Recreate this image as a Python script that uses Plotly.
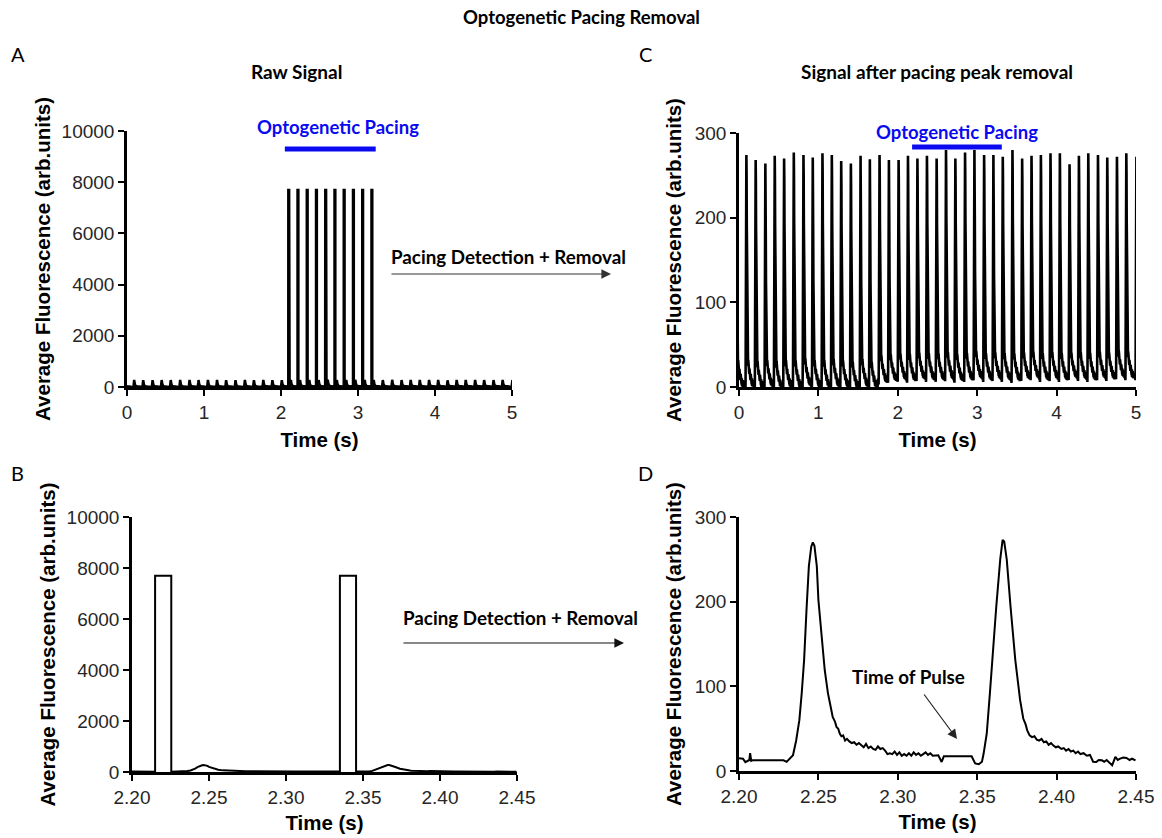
import plotly.graph_objects as go

W, H = 1162, 838

# ---------------- data ----------------
# Panel C: peak times (s) and peak heights (arb.units) of every beat
c_peak_times = [-0.034, 0.093, 0.210, 0.332, 0.450, 0.568, 0.690, 0.812, 0.929, 1.051,
                1.169, 1.287, 1.409, 1.531, 1.648, 1.770, 1.888, 2.010, 2.128, 2.247,
                2.367, 2.489, 2.607, 2.725, 2.847, 2.965, 3.087, 3.204, 3.322, 3.444,
                3.566, 3.684, 3.802, 3.923, 4.041, 4.163, 4.281, 4.399, 4.521, 4.638,
                4.760, 4.878, 5.005]
c_peak_heights = [272, 274, 268, 264, 273, 270, 277, 274, 271, 276,
                  274, 267, 264, 273, 269, 274, 268, 268, 273, 270,
                  273, 270, 280, 270, 277, 280, 274, 274, 272, 280,
                  270, 273, 274, 276, 276, 263, 273, 276, 274, 271,
                  272, 276, 272]
c_trough_levels = [3, 3, 2, 4, 1, 3, 2, 5, 3, 2,
                   4, 3, 2, 4, 1, 9, 11, 12, 11, 13,
                   12, 12, 13, 11, 12, 14, 12, 13, 12, 11,
                   13, 14, 12, 13, 12, 14, 13, 12, 14, 13,
                   15, 14, 14]

# single-beat waveform (time from peak, value)
beat_dt = [-0.020, -0.016, -0.0135, -0.0115, -0.010, -0.0085, -0.0065, -0.0045, -0.0025, -0.001,
           0.0, 0.001, 0.0025, 0.005, 0.008, 0.0105, 0.0125, 0.0145, 0.0165, 0.0185,
           0.021, 0.0235, 0.026, 0.0285, 0.031, 0.034, 0.0365, 0.039, 0.0415, 0.044,
           0.0465, 0.049, 0.0515, 0.0545, 0.057, 0.0595, 0.062, 0.0645, 0.067, 0.0695,
           0.072, 0.0745, 0.077, 0.0795, 0.082, 0.0845, 0.087, 0.0895, 0.092, 0.0945,
           0.097, 0.0995]
beat_val = [13, 8, 10, 6, 20, 44, 92, 147, 194, 250,
            273, 271, 250, 194, 131, 84, 62, 48, 36, 44,
            33, 40, 30, 36, 26, 33, 24, 30, 21, 27,
            20, 26, 17, 24, 15, 22, 14, 20, 12, 19,
            10, 18, 11, 17, 9, 16, 10, 15, 8, 14,
            10, 12]

# Optogenetic pulses (start times, s), pulse width and saturated height
pulse_starts = [2.095, 2.215, 2.335, 2.455, 2.575, 2.695, 2.815, 2.935, 3.055, 3.175]
pulse_width = 0.0105
pulse_height = 7700

# Panel D: zoomed trace after pacing peak removal
d_t = [2.2000, 2.2025, 2.2040, 2.2057, 2.2065, 2.2070, 2.2077, 2.2085, 2.2280, 2.2300,
       2.2320, 2.2340, 2.2360, 2.2380, 2.2395, 2.2410, 2.2425, 2.2440, 2.2455, 2.2465,
       2.2475, 2.2490, 2.2500, 2.2520, 2.2540, 2.2560, 2.2590, 2.2605, 2.2614, 2.2625,
       2.2635, 2.2645, 2.2656, 2.2668, 2.2680, 2.2695, 2.2710, 2.2725, 2.2740, 2.2755,
       2.2770, 2.2785, 2.2800, 2.2815, 2.2830, 2.2845, 2.2860, 2.2875, 2.2890, 2.2905,
       2.2920, 2.2935, 2.2950, 2.2965, 2.2980, 2.2995, 2.3010, 2.3025, 2.3040, 2.3055,
       2.3070, 2.3085, 2.3100, 2.3115, 2.3130, 2.3145, 2.3160, 2.3175, 2.3190, 2.3205,
       2.3220, 2.3240, 2.3255, 2.3276, 2.3290, 2.3465, 2.3487, 2.3510, 2.3530, 2.3540,
       2.3560, 2.3580, 2.3600, 2.3620, 2.3645, 2.3660, 2.3670, 2.3686, 2.3710, 2.3740,
       2.3770, 2.3790, 2.3805, 2.3815, 2.3830, 2.3845, 2.3860, 2.3875, 2.3890, 2.3905,
       2.3920, 2.3935, 2.3950, 2.3965, 2.3980, 2.3995, 2.4010, 2.4030, 2.4045, 2.4060,
       2.4075, 2.4090, 2.4105, 2.4120, 2.4135, 2.4150, 2.4170, 2.4190, 2.4210, 2.4230,
       2.4250, 2.4265, 2.4285, 2.4300, 2.4315, 2.4330, 2.4350, 2.4370, 2.4385, 2.4400,
       2.4420, 2.4440, 2.4460, 2.4475, 2.4497]
d_v = [15, 14.5, 10.5, 12.5, 13, 21, 12, 12.6, 12.6, 10.8,
       15.4, 18.6, 36, 60, 92, 131, 190, 242, 265, 270,
       266, 242, 202, 159, 119, 92, 64, 58, 52, 50,
       44, 41, 42, 36, 38, 35, 33, 34, 31, 33,
       31, 28, 32, 27, 29, 26, 25, 29, 26, 27,
       24, 20, 21, 20, 23, 19, 22, 18, 20, 18,
       21, 18, 22, 19, 21, 18, 20, 22, 19, 21,
       18, 18, 18.6, 10.7, 17.4, 17.4, 9, 8, 11, 20,
       44, 92, 147, 194, 250, 273, 271, 250, 194, 131,
       84, 62, 55, 48, 42, 40, 41, 37, 36, 38,
       34, 35, 31, 33, 30, 28, 29, 26, 27, 24,
       26, 23, 24, 21, 23, 20, 21, 18, 19, 11,
       10.7, 13, 12.6, 11, 13, 10.7, 6.7, 16.6, 13, 14.6,
       16, 15.4, 13, 14.5, 12.6]

x_ticks_long = [0, 1, 2, 3, 4, 5]
x_ticks_zoom = [2.20, 2.25, 2.30, 2.35, 2.40, 2.45]
y_ticks_raw = [0, 2000, 4000, 6000, 8000, 10000]
y_ticks_clean = [0, 100, 200, 300]

# ---------------- assemble traces ----------------
c_t, c_v = [], []
for k, (tp, hp, tr) in enumerate(zip(c_peak_times, c_peak_heights, c_trough_levels)):
    t_next = c_peak_times[k + 1] - 0.020 if k + 1 < len(c_peak_times) else 99
    for dt, bv in zip(beat_dt, beat_val):
        t = tp + dt
        if t >= t_next:
            break
        c_t.append(t)
        c_v.append(tr + (bv - 12) * (hp - tr) / (273 - 12))


def with_pulses(t, v, starts, width, height):
    out_t, out_v = [], []
    i = 0
    for ti, vi in zip(t, v):
        while i < len(starts) and ti >= starts[i]:
            s, e = starts[i], starts[i] + width
            base = out_v[-1] if out_v else vi
            out_t += [s, s, e, e]
            out_v += [base, height, height, base]
            i += 1
        if any(s <= ti <= s + width for s in starts):
            continue
        out_t.append(ti)
        out_v.append(vi)
    return out_t, out_v


a_t, a_v = with_pulses(c_t, c_v, pulse_starts, pulse_width, pulse_height)
b_t, b_v = with_pulses(d_t, d_v, [s for s in pulse_starts if 2.2 <= s <= 2.45],
                       pulse_width, pulse_height)

# ---------------- figure ----------------
fig = go.Figure()
fig.add_trace(go.Scatter(x=a_t, y=a_v, mode="lines", line=dict(color="black", width=2.5),
                         xaxis="x", yaxis="y", showlegend=False))
fig.add_trace(go.Scatter(x=c_t, y=c_v, mode="lines", line=dict(color="black", width=2.6),
                         xaxis="x2", yaxis="y2", showlegend=False))
fig.add_trace(go.Scatter(x=b_t, y=b_v, mode="lines", line=dict(color="black", width=2),
                         xaxis="x3", yaxis="y3", showlegend=False))
fig.add_trace(go.Scatter(x=d_t, y=d_v, mode="lines", line=dict(color="black", width=2),
                         xaxis="x4", yaxis="y4", showlegend=False))

TICKFONT = dict(family="Liberation Sans, Arial, sans-serif", size=19, color="#262626")
TITLEFONT = dict(family="Liberation Sans, Arial, sans-serif", size=20.5, color="black")


def ax(domain, rng, tickvals, title, fmt=None, standoff=8, anchor=None):
    d = dict(domain=domain, range=rng, tickvals=tickvals, showline=True, linecolor="black",
             linewidth=2.5, ticks="outside", ticklen=6, tickwidth=2, tickcolor="black",
             showgrid=False, zeroline=False, tickfont=TICKFONT, automargin=False,
             title=dict(text=title, font=TITLEFONT, standoff=standoff), anchor=anchor)
    if fmt:
        d["tickformat"] = fmt
    return d


def dx(a, b):
    return [a / W, b / W]


def dy(top, bottom):
    return [1 - bottom / H, 1 - top / H]


XT = "<b>Time (s)</b>"
YT = "<b>Average Fluorescence (arb.units)</b>"
fig.update_layout(
    width=W, height=H, margin=dict(l=0, r=0, t=0, b=0),
    paper_bgcolor="white", plot_bgcolor="white",
    xaxis=ax(dx(127, 512), [0, 5], x_ticks_long, XT, standoff=12, anchor="y"),
    yaxis=ax(dy(131, 387), [0, 10000], y_ticks_raw, YT, fmt="d", standoff=6, anchor="x"),
    xaxis2=ax(dx(739, 1136), [0, 5], x_ticks_long, XT, standoff=12, anchor="y2"),
    yaxis2=ax(dy(133, 387), [0, 300], y_ticks_clean, YT, standoff=8, anchor="x2"),
    xaxis3=ax(dx(132, 517), [2.2, 2.45], x_ticks_zoom, XT, fmt=".2f", standoff=10, anchor="y3"),
    yaxis3=ax(dy(517, 772), [0, 10000], y_ticks_raw, YT, fmt="d", standoff=6, anchor="x3"),
    xaxis4=ax(dx(739, 1136), [2.2, 2.45], x_ticks_zoom, XT, fmt=".2f", standoff=10, anchor="y4"),
    yaxis4=ax(dy(517, 771), [0, 300], y_ticks_clean, YT, standoff=8, anchor="x4"),
)

# blue pacing bars
fig.add_shape(type="line", xref="x", yref="y", x0=2.05, x1=3.23, y0=9300, y1=9300,
              line=dict(color="#0a0af0", width=5))
fig.add_shape(type="line", xref="x2", yref="y2", x0=2.18, x1=3.31, y0=283.5, y1=283.5,
              line=dict(color="#0a0af0", width=5))

ANN = "Lato, Carlito, Calibri, sans-serif"


def text(px, py, s, size=19, color="black", bold=True, family=ANN):
    fig.add_annotation(x=px / W, y=1 - py / H, xref="paper", yref="paper", showarrow=False,
                       text=f"<b>{s}</b>" if bold else s, xanchor="center", yanchor="middle",
                       font=dict(family=family, size=size, color=color))


text(581, 17, "Optogenetic Pacing Removal", size=18.5)
text(296, 71, "Raw Signal", size=19)
text(937, 71, "Signal after pacing peak removal", size=19)
text(338, 127, "Optogenetic Pacing", size=18.5, color="#0a0af0")
text(957, 132, "Optogenetic Pacing", size=18.5, color="#0a0af0")
text(508, 256, "Pacing Detection + Removal", size=18.8)
text(520, 617, "Pacing Detection + Removal", size=18.8)
text(908, 676, "Time of Pulse", size=18.8)
for lx, ly, s in [(18, 54, "A"), (645, 54, "C"), (17, 473, "B"), (645, 473, "D")]:
    text(lx, ly, s, size=20, bold=False)


def arrow(hx, hy, tx, ty, color="black", width=1.2):
    fig.add_annotation(x=hx / W, y=1 - hy / H, xref="paper", yref="paper", text="",
                       showarrow=True, ax=tx - hx, ay=ty - hy, axref="pixel", ayref="pixel",
                       arrowhead=2, arrowsize=1.6, arrowwidth=width, arrowcolor=color)


arrow(611, 274, 390, 274, color="#333333")
arrow(624, 643, 402, 643, color="#111111")
arrow(957, 739, 923, 693, color="#222222")

fig.write_html("out.html")
